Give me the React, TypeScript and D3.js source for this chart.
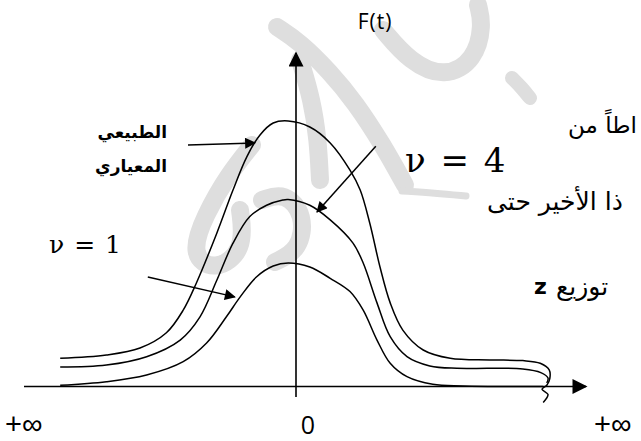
import * as d3 from 'd3'

// curves: t on the horizontal axis, f(t) on the vertical
const normalT = [-3.93, -3.16, -2.6, -2.16, -1.88, -1.66, -1.32, -1.05, -0.82, -0.6, -0.38, -0.13, 0.23, 0.57, 0.9, 1.07, 1.23, 1.4, 1.57, 1.78, 2.12, 2.57, 3.23, 3.78, 4.07, 4.22, 4.23, 4.18, 4.1, 4.2, 4.12]
const normalF = [0.0425, 0.0475, 0.058, 0.081, 0.115, 0.156, 0.231, 0.296, 0.346, 0.379, 0.397, 0.4, 0.391, 0.367, 0.326, 0.296, 0.246, 0.18, 0.126, 0.085, 0.055, 0.0425, 0.04, 0.039, 0.035, 0.025, 0.012, 0.002, -0.004, -0.012, -0.024]

const nu4T = [-3.93, -3.16, -2.49, -1.93, -1.6, -1.32, -1.05, -0.77, -0.49, -0.22, -0.13, 0.23, 0.57, 0.95, 1.12, 1.35, 1.57, 1.85, 2.23, 2.68, 3.23, 3.78, 4.08, 4.2, 4.18]
const nu4F = [0.0294, 0.0324, 0.0449, 0.07, 0.105, 0.16, 0.216, 0.256, 0.273, 0.281, 0.2817, 0.273, 0.251, 0.216, 0.186, 0.126, 0.075, 0.045, 0.031, 0.0274, 0.0274, 0.0264, 0.021, 0.0128, 0.0053]

const nu1T = [-3.93, -3.16, -2.49, -1.88, -1.49, -1.16, -0.93, -0.66, -0.38, -0.13, 0.23, 0.57, 0.9, 1.12, 1.35, 1.57, 1.85, 2.28, 2.78, 4.12]
const nu1F = [0.0018, 0.0072, 0.0173, 0.0374, 0.0655, 0.105, 0.135, 0.165, 0.1815, 0.186, 0.18, 0.163, 0.143, 0.115, 0.07, 0.035, 0.0148, 0.0033, 0.0008, 0]

// annotation arrows: [tFrom, fFrom, tTo, fTo]
const arrowNormal = [-1.8, 0.364, -0.683, 0.367]
const arrowNu1 = [-2.47, 0.165, -1.02, 0.135]
const arrowNu4 = [1.33, 0.362, 0.35, 0.263]

const axisLabels = ['+∞', '0', '+∞']

// light grey watermark strokes behind the figure (pixel space)
const watermark: [number, number][][] = [
  [[277, 27], [300, 42], [330, 72], [355, 102], [383, 145], [405, 185]],
  [[300, 60], [312, 100], [318, 140], [320, 180]],
  [[252, 145], [228, 175], [205, 215], [190, 255], [215, 272], [245, 250], [240, 210]],
  [[262, 200], [285, 192], [305, 215], [300, 250], [275, 262]],
  [[383, 30], [410, 62], [445, 78], [475, 60], [483, 25], [478, 5]],
  [[512, 78], [522, 88], [530, 98]],
  [[402, 191], [435, 193], [466, 196]]
]

const W = 641
const H = 441

export default function App() {
  const x = d3.scaleLinear().domain([-4, 4]).range([56, 536])
  const y = d3.scaleLinear().domain([0, 0.4]).range([386.5, 121])

  const curve = (ts: number[], fs: number[]) =>
    d3.line<number>()
      .x(i => x(ts[i]))
      .y(i => y(fs[i]))
      .curve(d3.curveCatmullRom.alpha(0.5))(d3.range(ts.length)) || ''

  const wm = d3.line<[number, number]>().curve(d3.curveBasis)

  const ax0 = 24
  const ax1 = 586
  const ay = y(0)
  const vx = x(0)

  const arrow = (a: number[], k: string) => (
    <line key={k} x1={x(a[0])} y1={y(a[1])} x2={x(a[2])} y2={y(a[3])}
      stroke="#000" strokeWidth={1.5} markerEnd="url(#ah)" />
  )

  return (
    <svg width={W} height={H} style={{ position: 'absolute', left: 0, top: 0, background: '#fff' }}>
      <defs>
        <marker id="ah" viewBox="0 0 10 10" refX="9" refY="5" markerWidth="13" markerHeight="11"
          markerUnits="userSpaceOnUse" orient="auto">
          <path d="M0,0L10,5L0,10Z" fill="#000" />
        </marker>
        <marker id="axh" viewBox="0 0 10 10" refX="9" refY="5" markerWidth="17" markerHeight="15"
          markerUnits="userSpaceOnUse" orient="auto">
          <path d="M0,0L10,5L0,10Z" fill="#000" />
        </marker>
      </defs>

      <g fill="none" stroke="#dedede" strokeLinecap="round" strokeLinejoin="round">
        {watermark.map((p, i) => (
          <path key={i} d={wm(p) || ''} strokeWidth={i === 6 ? 7 : i === 5 ? 14 : 18} />
        ))}
      </g>

      {/* axes */}
      <line x1={ax0} y1={ay} x2={ax1} y2={ay} stroke="#000" strokeWidth={1.6} markerEnd="url(#axh)" />
      <line x1={vx} y1={397} x2={vx} y2={53} stroke="#000" strokeWidth={1.6} markerEnd="url(#axh)" />

      {/* curves */}
      <g fill="none" stroke="#000" strokeWidth={1.5}>
        <path d={curve(normalT, normalF)} />
        <path d={curve(nu4T, nu4F)} />
        <path d={curve(nu1T, nu1F)} />
      </g>

      {arrow(arrowNormal, 'n')}
      {arrow(arrowNu1, 'n1')}
      {arrow(arrowNu4, 'n4')}

      <text x={375} y={29} textAnchor="middle" fontFamily="Open Sans, sans-serif" fontSize={21} letterSpacing={1}>F(t)</text>

      <g fontFamily="DejaVu Sans, sans-serif" fontWeight="bold" fontSize={17} textAnchor="end">
        <text x={167} y={138}>الطبيعي</text>
        <text x={167} y={172}>المعياري</text>
      </g>

      <text x={49} y={253} fontFamily="DejaVu Serif, serif" fontSize={25} wordSpacing={2}>ν = 1</text>
      <text x={405} y={172} fontFamily="DejaVu Serif, serif" fontSize={34} wordSpacing={4}>ν = 4</text>

      <g fontFamily="DejaVu Sans, sans-serif" fontSize={23}>
        <text x={568} y={133}>اطاً من</text>
        <text x={487} y={210} fontSize={25}>ذا الأخير حتى</text>
        <text x={556} y={295} fontSize={25}>توزيع</text>
      </g>
      <text x={534} y={294} fontFamily="DejaVu Sans, sans-serif" fontWeight="bold" fontSize={22}>z</text>

      <g fontFamily="Liberation Sans, sans-serif" fontSize={29}>
        <text x={5} y={434}>{axisLabels[0]}</text>
        <text x={594} y={434}>{axisLabels[2]}</text>
      </g>
      <text x={308} y={434} textAnchor="middle" fontFamily="Open Sans, sans-serif" fontSize={25}>{axisLabels[1]}</text>
    </svg>
  )
}
